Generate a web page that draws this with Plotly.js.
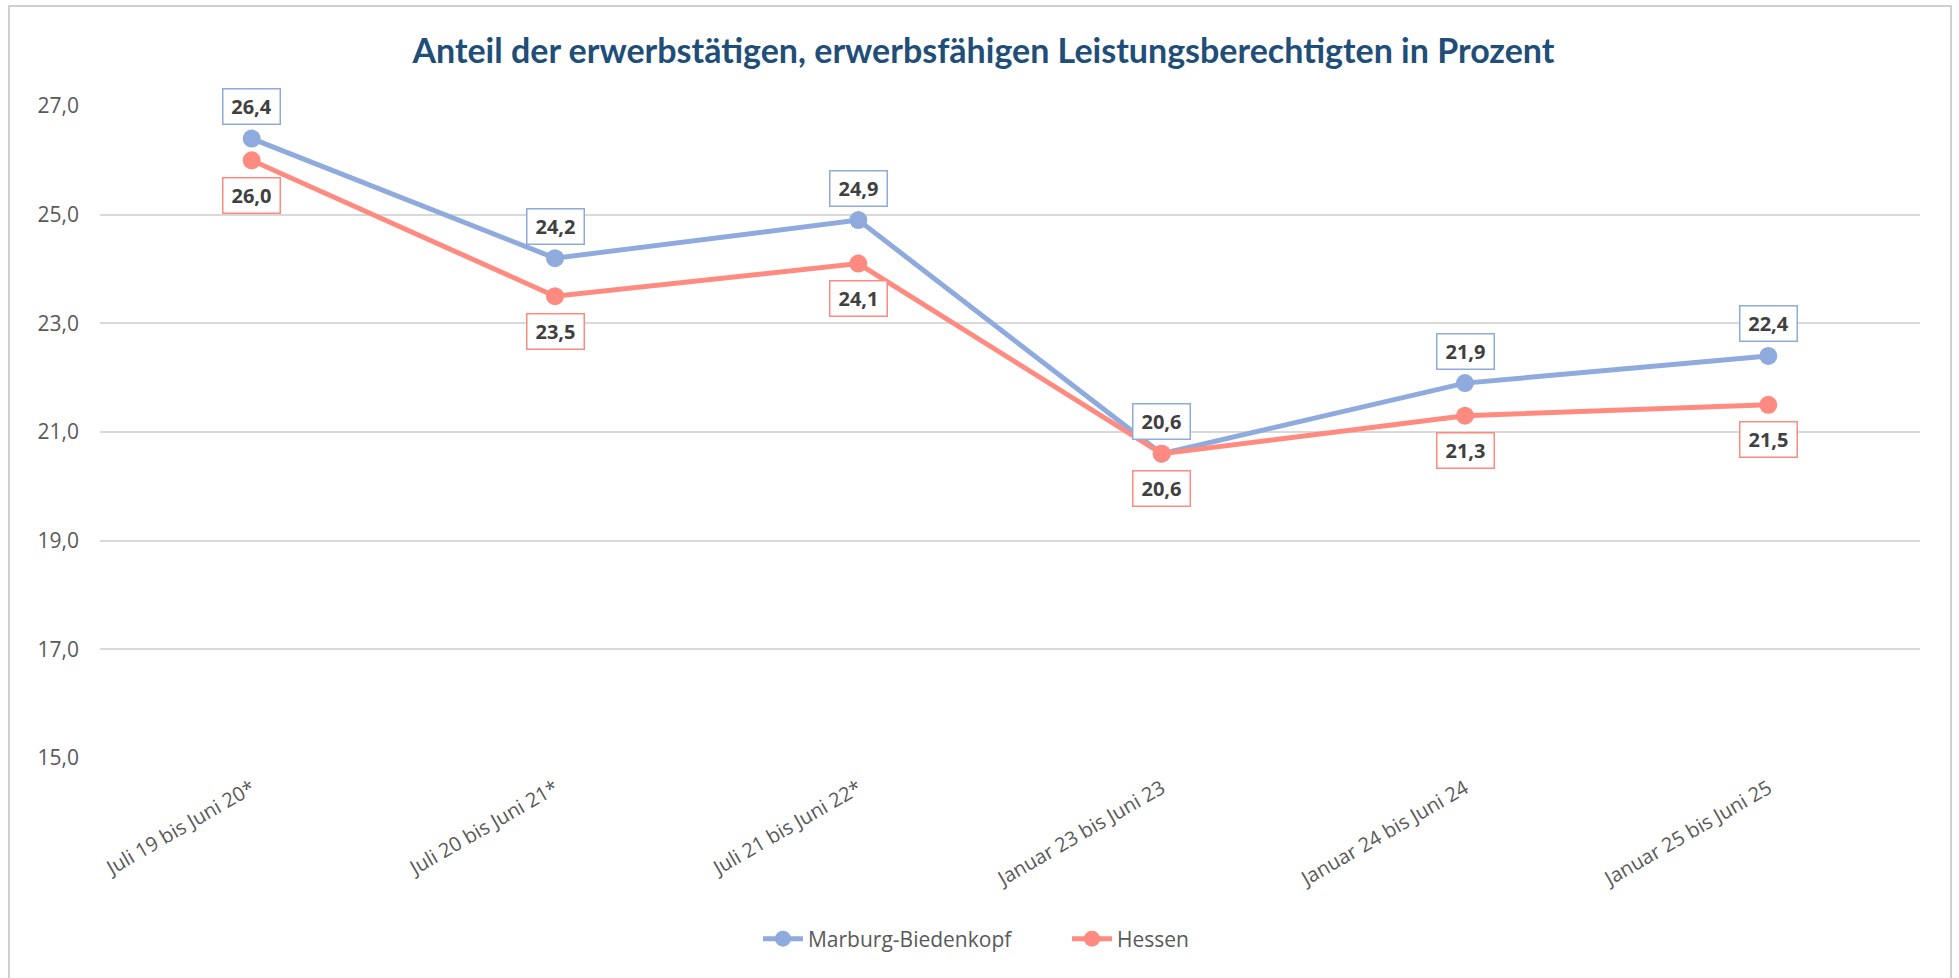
<!DOCTYPE html>
<html>
<head>
<meta charset="utf-8">
<script src="https://cdn.plot.ly/plotly-3.0.1.min.js"></script>
<style>
  html, body { margin: 0; padding: 0; background: #ffffff; }
  #chart { width: 1959px; height: 978px; }
</style>
</head>
<body>
<div id="chart"></div>
<script>
// ---- data ----
var categories = [
  "Juli 19 bis Juni 20*",
  "Juli 20 bis Juni 21*",
  "Juli 21 bis Juni 22*",
  "Januar 23 bis Juni 23",
  "Januar 24 bis Juni 24",
  "Januar 25 bis Juni 25"
];
var marburgValues = [26.4, 24.2, 24.9, 20.6, 21.9, 22.4];
var hessenValues  = [26.0, 23.5, 24.1, 20.6, 21.3, 21.5];
var seriesNames = ["Marburg-Biedenkopf", "Hessen"];
var yTickValues = [15, 17, 19, 21, 23, 25, 27];
var chartTitle = "Anteil der erwerbstätigen, erwerbsfähigen Leistungsberechtigten in Prozent";

// ---- styles ----
var blue = "#8FAADC";
var red = "#FF8B80";
var textGrey = "#595959";
var labelText = "#404040";
var baseFont = "Open Sans, Noto Sans, sans-serif";

function fmt(v) { return v.toFixed(1).replace(".", ","); }

var traces = [
  {
    x: categories, y: marburgValues, name: seriesNames[0],
    type: "scatter", mode: "lines+markers",
    line: { color: blue, width: 5 },
    marker: { color: blue, size: 18 },
    hoverinfo: "skip"
  },
  {
    x: categories, y: hessenValues, name: seriesNames[1],
    type: "scatter", mode: "lines+markers",
    line: { color: red, width: 5 },
    marker: { color: red, size: 18 },
    hoverinfo: "skip"
  }
];

var annotations = [];
function addLabels(vals, color, shift) {
  for (var i = 0; i < vals.length; i++) {
    annotations.push({
      x: categories[i], y: vals[i], xref: "x", yref: "y",
      text: fmt(vals[i]), showarrow: false,
      yshift: shift,
      font: { family: baseFont, size: 20, color: labelText, weight: "bold" },
      bgcolor: "#ffffff", bordercolor: color, borderwidth: 1.5,
      width: 56, height: 34, borderpad: 0,
      xanchor: "center", yanchor: "middle"
    });
  }
}
addLabels(marburgValues, blue, 32);
addLabels(hessenValues, red, -35);

var layout = {
  width: 1959, height: 978,
  paper_bgcolor: "#ffffff", plot_bgcolor: "#ffffff",
  separators: ",.",
  margin: { l: 100, r: 39, t: 106, b: 220, pad: 0 },
  font: { family: baseFont, color: textGrey },
  title: {
    text: "<b>" + chartTitle + "</b>",
    font: { family: "Lato, sans-serif", size: 34, color: "#1F4E79" },
    xref: "container", x: 0.502, xanchor: "center",
    yref: "container", y: 0.948, yanchor: "middle"
  },
  xaxis: {
    type: "category",
    range: [-0.5, 5.5],
    showgrid: false, zeroline: false, showline: false,
    ticks: "", tickangle: -30,
    ticklabelstandoff: 14,
    tickfont: { family: baseFont, size: 20, color: textGrey },
    fixedrange: true
  },
  yaxis: {
    range: [15, 27],
    tickvals: yTickValues, tickformat: ".1f",
    showgrid: true, gridcolor: "#D9D9D9", gridwidth: 2,
    zeroline: false, showline: false, ticks: "",
    ticklabelstandoff: 20,
    tickfont: { family: baseFont, size: 21, color: textGrey },
    fixedrange: true
  },
  showlegend: true,
  legend: {
    orientation: "h",
    x: 0.5313, xanchor: "center", xref: "paper",
    y: -0.2776, yanchor: "middle", yref: "paper",
    font: { family: baseFont, size: 21, color: textGrey },
    itemwidth: 40,
    entrywidth: 254, entrywidthmode: "pixels"
  },
  annotations: annotations,
  shapes: [{
    type: "rect", xref: "paper", yref: "paper",
    x0: -0.05, x1: 1.01703, y0: -0.3405, y1: 1.1534,
    line: { color: "#D0D0D0", width: 2 }, fillcolor: "rgba(0,0,0,0)",
    layer: "below"
  }]
};

Plotly.newPlot("chart", traces, layout, { displayModeBar: false, staticPlot: true });
</script>
</body>
</html>
